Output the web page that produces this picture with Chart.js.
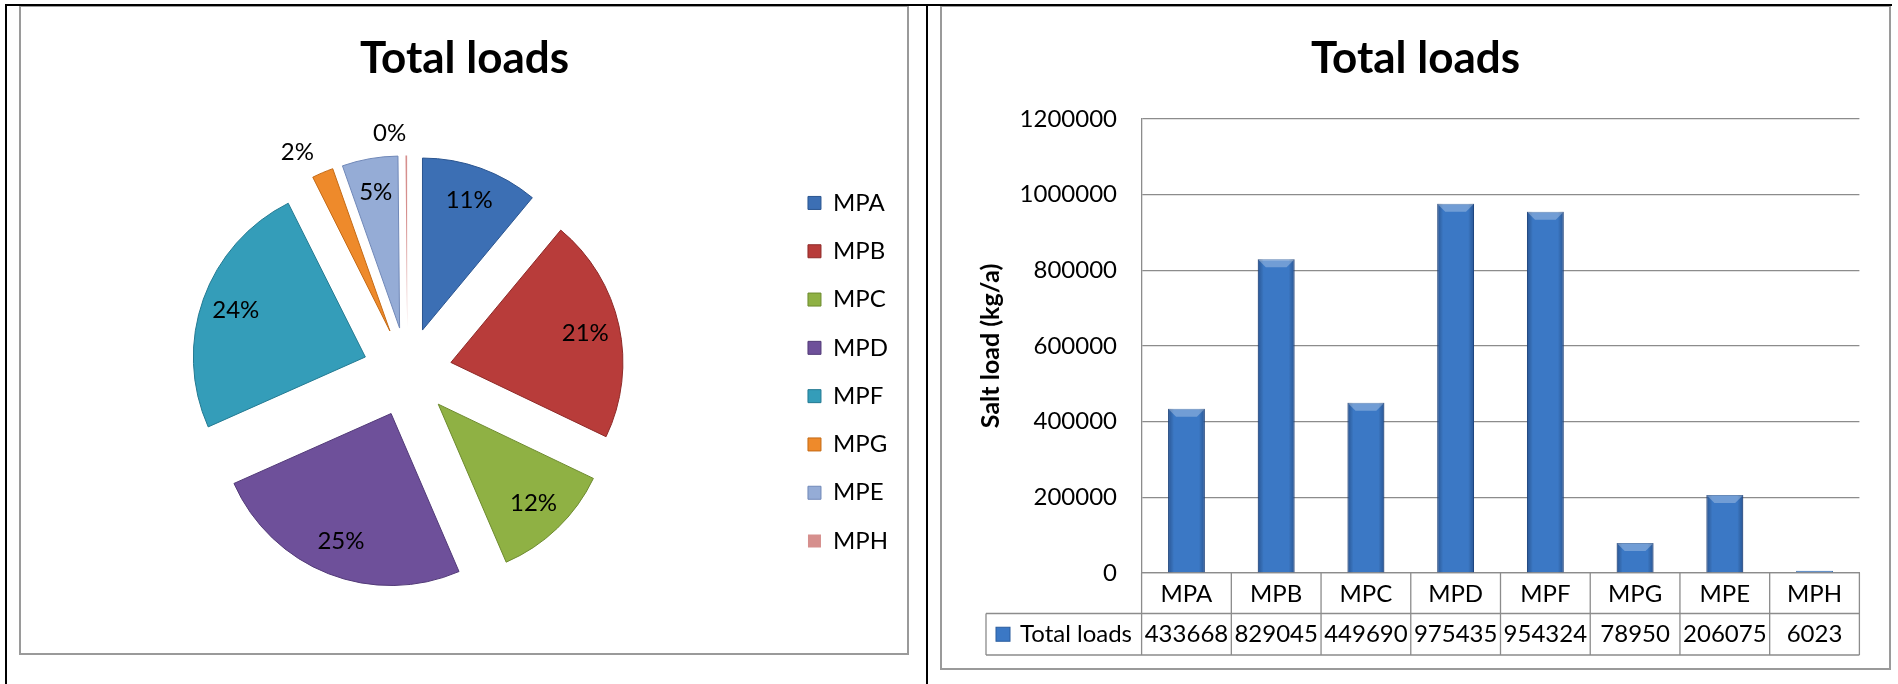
<!DOCTYPE html>
<html>
<head>
<meta charset="utf-8">
<script src="https://cdn.jsdelivr.net/npm/chart.js@4/dist/chart.umd.min.js"></script>
<style>
  html, body { margin: 0; padding: 0; background: #fff; }
  body { width: 1898px; height: 684px; position: relative; overflow: hidden; font-family: Lato, sans-serif; }
  .box { position: absolute; box-sizing: border-box; border: 2px solid #9a9a9a; background: #fff; }
  .blk { position: absolute; background: #000; z-index: 5; }
  canvas { position: absolute; z-index: 3; }
</style>
</head>
<body>
<div class="box" style="left:19px;top:5px;width:890px;height:650px;"></div>
<div class="box" style="left:940px;top:5px;width:951px;height:665px;"></div>
<div class="blk" style="left:5px;top:4px;width:1887px;height:2px;"></div>
<div class="blk" style="left:5px;top:4px;width:2px;height:680px;"></div>
<div class="blk" style="left:926px;top:4px;width:2px;height:680px;"></div>

<canvas id="pie" width="900" height="646" style="left:21px;top:7px;width:900px;height:646px;"></canvas>
<canvas id="bar" width="947" height="661" style="left:942px;top:7px;width:947px;height:661px;"></canvas>

<script>
// ---- data ----
const chartTitle = 'Total loads';
const categories = ['MPA', 'MPB', 'MPC', 'MPD', 'MPF', 'MPG', 'MPE', 'MPH'];
const totalLoads = [433668, 829045, 449690, 975435, 954324, 78950, 206075, 6023];
const pieLabels = ['11%', '21%', '12%', '25%', '24%', '2%', '5%', '0%'];
const seriesName = 'Total loads';
const yAxisTitle = 'Salt load (kg/a)';
const yMin = 0, yMax = 1200000, yStep = 200000;

// ---- styles ----
const pieColors = ['#3c6fb4', '#b83c3a', '#8fb144', '#6e509a', '#349db9', '#ee8a2b', '#95acd6', '#d68f8d'];
const pieBorders = ['#2b5590', '#8e2a28', '#6d8a2e', '#523a78', '#237a92', '#c46a15', '#7088b8', '#b06a68'];
const pieBorderWidths = [1, 1, 1, 1, 1, 1, 1, 0];
const barColor = '#3b78c5';
const barBorder = '#2b5d9e';
const gridColor = '#8c8c8c';
const EXPLODE = 44.6;
const PIE_R = 172;

Chart.defaults.font.family = 'Lato, sans-serif';
Chart.defaults.color = '#000';

// pie: draw the library arcs, each pushed outward along its mid-angle
const explodePlugin = {
  id: 'explode',
  beforeDatasetDraw(chart, args) {
    const ctx = chart.ctx;
    args.meta.data.forEach(arc => {
      const mid = (arc.startAngle + arc.endAngle) / 2;
      ctx.save();
      ctx.translate(Math.cos(mid) * EXPLODE, Math.sin(mid) * EXPLODE);
      arc.draw(ctx);
      ctx.restore();
    });
    return false;
  }
};

const pieLabelPlugin = {
  id: 'pieLabels',
  afterDatasetsDraw(chart) {
    const ctx = chart.ctx;
    const meta = chart.getDatasetMeta(0);
    const total = totalLoads.reduce((a, b) => a + b, 0);
    ctx.save();
    ctx.font = '24px Lato, sans-serif';
    ctx.fillStyle = '#000';
    ctx.textBaseline = 'middle';
    meta.data.forEach((arc, i) => {
      const mid = (arc.startAngle + arc.endAngle) / 2;
      const share = totalLoads[i] / total;
      const outside = share < 0.03;
      const dist = EXPLODE + (outside ? arc.outerRadius + 22 : arc.outerRadius * 0.8);
      ctx.textAlign = outside ? (Math.cos(mid) < 0 ? 'right' : 'left') : 'center';
      ctx.fillText(pieLabels[i], arc.x + Math.cos(mid) * dist, arc.y + Math.sin(mid) * dist);
    });
    ctx.restore();
  }
};

new Chart(document.getElementById('pie'), {
  type: 'pie',
  data: {
    labels: categories,
    datasets: [{
      label: seriesName,
      data: totalLoads,
      backgroundColor: pieColors,
      borderColor: pieBorders,
      borderWidth: pieBorderWidths
    }]
  },
  options: {
    responsive: false,
    animation: false,
    radius: PIE_R,
    layout: { padding: { left: 10, right: 23, top: 0, bottom: 16 } },
    plugins: {
      title: {
        display: true, text: chartTitle,
        font: { size: 44, weight: 'bold' }, color: '#000',
        padding: { top: 25.6, bottom: 21.6 }
      },
      legend: {
        position: 'right',
        fullSize: false,
        labels: { boxWidth: 13, boxHeight: 13, padding: 24.3, font: { size: 24 }, color: '#000' }
      },
      tooltip: { enabled: false }
    }
  },
  plugins: [explodePlugin, pieLabelPlugin]
});

// bar: light bevel shading laid over each library-drawn bar
const bevelPlugin = {
  id: 'bevel',
  afterDatasetDraw(chart, args) {
    const ctx = chart.ctx;
    ctx.save();
    args.meta.data.forEach(bar => {
      const {x, y, base, width} = bar.getProps(['x', 'y', 'base', 'width'], true);
      const l = x - width / 2, h = base - y;
      if (h <= 3) return;
      const g = ctx.createLinearGradient(l, 0, l + width, 0);
      g.addColorStop(0, 'rgba(0,10,50,0.30)');
      g.addColorStop(0.16, 'rgba(0,0,0,0)');
      g.addColorStop(0.84, 'rgba(0,0,0,0)');
      g.addColorStop(1, 'rgba(0,10,50,0.30)');
      ctx.fillStyle = g;
      ctx.fillRect(l, y, width, h);
      const cap = Math.min(8, h / 2);
      ctx.fillStyle = 'rgba(255,255,255,0.28)';
      ctx.beginPath();
      ctx.moveTo(l, y); ctx.lineTo(l + width, y);
      ctx.lineTo(l + width - cap, y + cap); ctx.lineTo(l + cap, y + cap);
      ctx.closePath(); ctx.fill();
    });
    ctx.restore();
  }
};

// bar: data table drawn under the category axis from the same arrays
const tablePlugin = {
  id: 'dataTable',
  afterDraw(chart) {
    const ctx = chart.ctx;
    const xs = chart.scales.x;
    const area = chart.chartArea;
    const step = xs.getPixelForValue(1) - xs.getPixelForValue(0);
    const left = xs.getPixelForValue(0) - step / 2;
    const right = xs.getPixelForValue(categories.length - 1) + step / 2;
    const row1 = area.bottom + 40.5;
    const row2 = row1 + 41.5;
    const legLeft = 44;
    ctx.save();
    ctx.strokeStyle = gridColor;
    ctx.lineWidth = 1.3;
    ctx.beginPath();
    for (let i = 0; i <= categories.length; i++) {
      const x = left + i * step;
      ctx.moveTo(x, area.bottom); ctx.lineTo(x, row2);
    }
    ctx.moveTo(legLeft, row1); ctx.lineTo(right, row1);
    ctx.moveTo(legLeft, row2); ctx.lineTo(right, row2);
    ctx.moveTo(legLeft, row1); ctx.lineTo(legLeft, row2);
    ctx.stroke();
    const cy = (row1 + row2) / 2;
    ctx.font = '24px Lato, sans-serif';
    ctx.fillStyle = '#000';
    ctx.textBaseline = 'middle';
    ctx.textAlign = 'center';
    totalLoads.forEach((v, i) => ctx.fillText(String(v), xs.getPixelForValue(i), cy));
    ctx.fillStyle = barColor;
    ctx.fillRect(54, cy - 7, 14, 14);
    ctx.strokeStyle = barBorder; ctx.lineWidth = 1;
    ctx.strokeRect(54, cy - 7, 14, 14);
    ctx.fillStyle = '#000';
    ctx.textAlign = 'left';
    ctx.fillText(seriesName, 78, cy);
    ctx.restore();
  }
};

new Chart(document.getElementById('bar'), {
  type: 'bar',
  data: {
    labels: categories,
    datasets: [{
      label: seriesName,
      data: totalLoads,
      backgroundColor: barColor,
      borderColor: barBorder,
      borderWidth: 1,
      barPercentage: 0.41,
      categoryPercentage: 1
    }]
  },
  options: {
    responsive: false,
    animation: false,
    layout: { padding: { left: 29.6, right: 29.6, top: 0, bottom: 0 } },
    scales: {
      x: {
        grid: { display: false, drawTicks: false },
        border: { display: true, color: gridColor, width: 1.3 },
        ticks: { font: { size: 24 }, color: '#000', padding: 7, maxRotation: 0 },
        afterFit(scale) { scale.height = 95; }
      },
      y: {
        min: yMin, max: yMax,
        ticks: { stepSize: yStep, font: { size: 24 }, color: '#000', padding: 24.6,
                 callback: v => String(v) },
        grid: { color: gridColor, lineWidth: 1.3, drawTicks: false },
        border: { display: true, color: gridColor, width: 1.3 },
        title: { display: true, text: yAxisTitle, font: { size: 25, weight: 'bold' }, color: '#000',
                 padding: { top: 4.4, bottom: 0 } },
        afterFit(scale) { scale.width = 170; }
      }
    },
    plugins: {
      title: {
        display: true, text: chartTitle,
        font: { size: 44, weight: 'bold' }, color: '#000',
        padding: { top: 25.6, bottom: 33.4 }
      },
      legend: { display: false },
      tooltip: { enabled: false }
    }
  },
  plugins: [bevelPlugin, tablePlugin]
});
</script>
</body>
</html>
